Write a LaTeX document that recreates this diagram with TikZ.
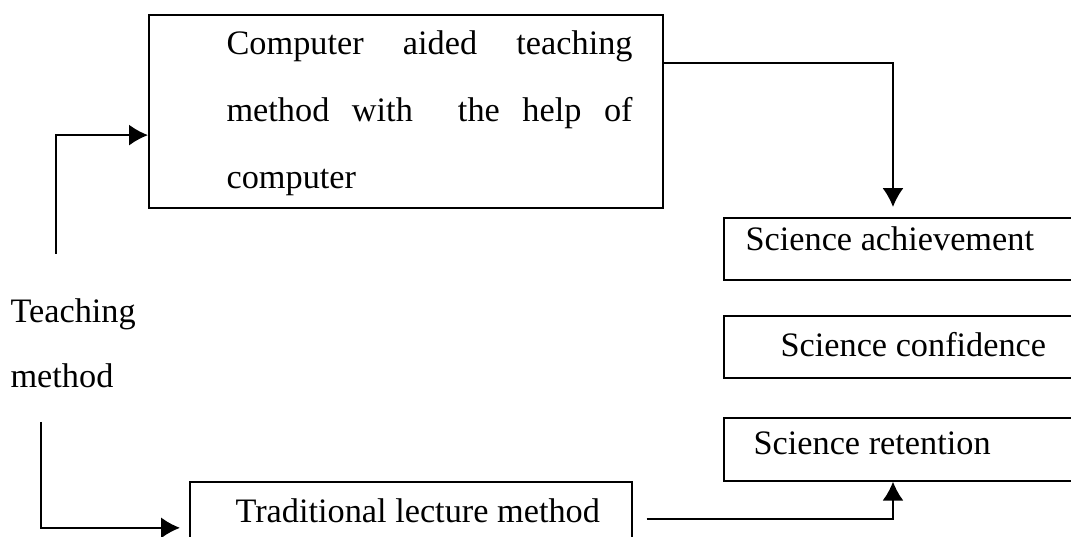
\documentclass[tikz,border=0pt]{standalone}
\usepackage{fontspec}
\setmainfont{Liberation Serif}
\usepackage{tikz}
\usetikzlibrary{calc,arrows.meta}
\tikzstyle{plainbox} = [
    draw=black,
    line width=0.6pt,
    rectangle,
    inner sep=0pt,
    anchor=north west
    ]
\tikzstyle{txt} = [
    inner sep=0pt,
    anchor=base west,
    font=\fontsize{12}{14}\selectfont
    ]
\tikzstyle{arr} = [
    line width=0.6pt,
    -{Latex[length=6.6pt,width=7.3pt]}
    ]

\begin{document}
\begin{tikzpicture}[x=0.35pt,y=-0.35pt]
\useasboundingbox (0,0) rectangle (1071,537);
\clip (0,0) rectangle (1071,537);

% boxes
\node[plainbox, minimum width=179.9pt, minimum height=67.55pt] (cat) at (148,14) {};
\node[plainbox, minimum width=131.95pt, minimum height=21.7pt] (ach) at (723,217) {};
\node[plainbox, minimum width=131.95pt, minimum height=21.7pt] (conf) at (723,315) {};
\node[plainbox, minimum width=131.95pt, minimum height=22.05pt] (ret) at (723,417) {};
\node[plainbox, minimum width=154.7pt, minimum height=32.2pt] (trad) at (189,481) {};

% texts
\node[txt] (cattext) at (226,55) {\parbox[t]{142.1pt}{\fontsize{12}{23.45}\selectfont
    Computer aided teaching\linebreak method with~~the help of\linebreak computer}};
\node[txt] (tm) at (10,323) {\parbox[t]{60pt}{\fontsize{12}{22.75}\selectfont
    Teaching\\method}};
\node[txt] (achtext) at (745,251) {Science achievement};
\node[txt] (conftext) at (780,357) {Science confidence};
\node[txt] (rettext) at (753,455) {Science retention};
\node[txt] (tradtext) at (235,523) {Traditional lecture method};

% connectors
\coordinate (up) at (56,254);
\coordinate (dn) at (41,422);
\draw[arr] (up) |- ($(cat.north west)!0.622!(cat.south west)$);
\draw[arr, shorten >=3.5pt] ($(cat.north east)!0.25!(cat.south east)$) -| ([xshift=59.5pt]ach.north west);
\draw[arr, shorten >=3.15pt] (dn) |- (trad.west);
\draw[arr] ([shift={(14,-9)}]trad.east) -| ([xshift=59.5pt]ret.south west);
\end{tikzpicture}
\end{document}
